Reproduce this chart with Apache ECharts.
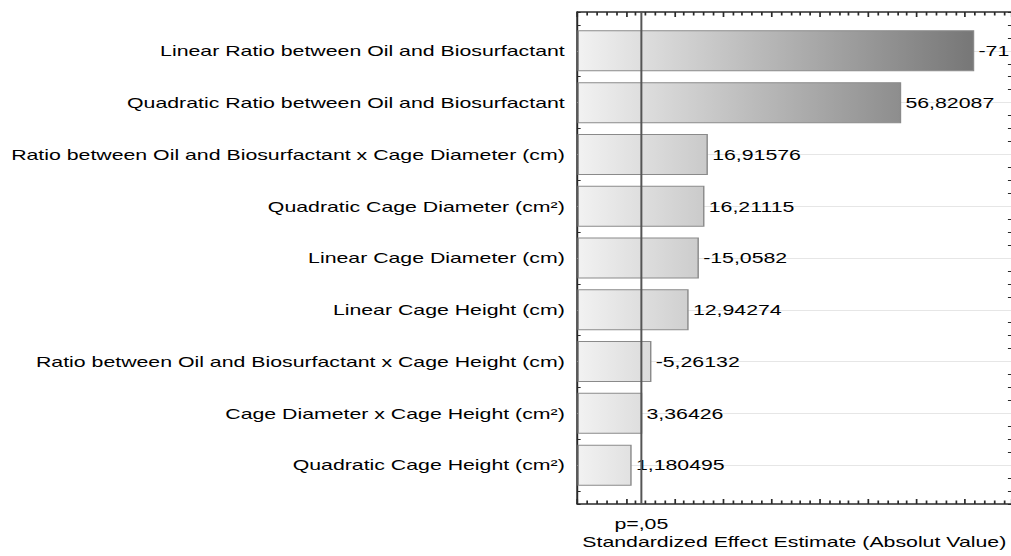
<!DOCTYPE html>
<html>
<head>
<meta charset="utf-8">
<script src="https://cdn.jsdelivr.net/npm/echarts@6/dist/echarts.min.js"></script>
<style>
html,body{margin:0;padding:0;background:#fff;overflow:hidden;width:1011px;height:556px;}
#c{width:712px;height:556px;transform:scaleX(1.42);transform-origin:0 0;}
</style>
</head>
<body>
<div id="c"></div>
<script>
// ---- data ----
const categories = [
  'Linear Ratio between Oil and Biosurfactant',
  'Quadratic Ratio between Oil and Biosurfactant',
  'Ratio between Oil and Biosurfactant x Cage Diameter (cm)',
  'Quadratic Cage Diameter (cm²)',
  'Linear Cage Diameter (cm)',
  'Linear Cage Height (cm)',
  'Ratio between Oil and Biosurfactant x Cage Height (cm)',
  'Cage Diameter x Cage Height (cm²)',
  'Quadratic Cage Height (cm²)'
];
const effects = [-71.9, 56.82087, 16.91576, 16.21115, -15.0582, 12.94274, -5.26132, 3.36426, 1.180495];
const effectLabels = ['-71', '56,82087', '16,91576', '16,21115', '-15,0582', '12,94274', '-5,26132', '3,36426', '1,180495'];
const pCritical = 3.182;
const pLabel = 'p=,05';
const xMin = -10, xMax = 79.5, xInterval = 10;
const yMin = -0.75, yMax = 8.75;
const xTitle = 'Standardized Effect Estimate (Absolut Value)';

const absEffects = effects.map(v => Math.abs(v));
const FONT = "'Liberation Sans', Arial, sans-serif";
const gridLeft = 406.7;

const chart = echarts.init(document.getElementById('c'), null, {renderer: 'svg'});
const frameAxisX = (pos, withName) => ({
  type: 'value', gridIndex: 1, position: pos, min: xMin, max: xMax, interval: xInterval,
  axisLine: {show: true, onZero: false, lineStyle: {color: '#2a2a2a', width: 1.6}},
  axisTick: {show: true, inside: true, length: 5, lineStyle: {color: '#2a2a2a', width: 1.2}},
  minorTick: {show: true, splitNumber: 5, length: 3.5, lineStyle: {color: '#2a2a2a', width: 1.2}},
  axisLabel: {show: false}, splitLine: {show: false}, minorSplitLine: {show: false},
  name: withName ? xTitle : '', nameLocation: 'middle', nameGap: 30,
  nameTextStyle: {fontFamily: FONT, fontSize: 15, color: '#000'}
});
const frameAxisY = (pos, showLine) => ({
  type: 'value', gridIndex: 1, position: pos, min: yMin, max: yMax, interval: 0.25, inverse: true,
  axisLine: {show: showLine, onZero: false, lineStyle: {color: '#2a2a2a', width: 1.4}},
  axisTick: {show: true, inside: true, length: 2.2, lineStyle: {color: '#2a2a2a', width: 1}},
  axisLabel: {show: false}, splitLine: {show: false}
});
const barAxisY = (pos, showLabel) => ({
  type: 'category', gridIndex: 0, position: pos, data: categories, inverse: true,
  axisLine: {show: false, onZero: false},
  axisTick: {show: true, inside: true, alignWithLabel: true, length: 4, lineStyle: {color: '#2a2a2a', width: 1}},
  axisLabel: {show: showLabel, fontFamily: FONT, fontSize: 15, color: '#000', margin: 9},
  splitLine: {show: false}
});
const pLineData = [
  {value: [pCritical, yMin]},
  {value: [pCritical, yMax], label: {show: true, position: 'bottom', distance: 12,
    formatter: pLabel, fontFamily: FONT, fontSize: 15, color: '#000'}}
];

chart.setOption({
  animation: false,
  backgroundColor: '#fff',
  grid: [
    {left: gridLeft, right: 0, top: 24.95, bottom: 64.95, containLabel: false},
    {left: gridLeft, right: 0, top: 12, bottom: 52, containLabel: false}
  ],
  xAxis: [
    {type: 'value', gridIndex: 0, min: xMin, max: xMax, startValue: xMin, show: false,
      axisLine: {onZero: false}},
    frameAxisX('bottom', true),
    frameAxisX('top', false)
  ],
  yAxis: [
    barAxisY('left', true),
    barAxisY('right', false),
    frameAxisY('left', true),
    frameAxisY('right', false)
  ],
  series: [
    {
      type: 'line', xAxisIndex: 0, yAxisIndex: 0, data: absEffects, symbol: 'none',
      lineStyle: {opacity: 0}, silent: true, z: 1,
      markLine: {silent: true, symbol: 'none', label: {show: false}, z: 1,
        lineStyle: {color: '#e6e6e6', width: 1, type: 'solid'},
        data: categories.map(c => ({yAxis: c}))}
    },
    {
      type: 'bar', xAxisIndex: 0, yAxisIndex: 0, data: absEffects, barWidth: 41, z: 2,
      itemStyle: {
        color: {type: 'linear', x: gridLeft, y: 0, x2: 686.6, y2: 0, global: true,
          colorStops: [{offset: 0, color: '#f2f2f2'}, {offset: 1, color: '#767676'}]},
        borderColor: '#8a8a8a', borderWidth: 1
      },
      label: {show: true, position: 'right', distance: 3, fontFamily: FONT, fontSize: 15, color: '#000',
        formatter: p => effectLabels[p.dataIndex]}
    },
    {
      type: 'line', xAxisIndex: 1, yAxisIndex: 2, z: 3, silent: true,
      symbol: 'circle', symbolSize: 0,
      lineStyle: {color: '#555', width: 1.4},
      data: pLineData
    },
    {
      type: 'line', xAxisIndex: 2, yAxisIndex: 3, z: 3, silent: true,
      symbol: 'none', lineStyle: {opacity: 0},
      data: pLineData.map(d => d.value)
    }
  ]
});
</script>
</body>
</html>
